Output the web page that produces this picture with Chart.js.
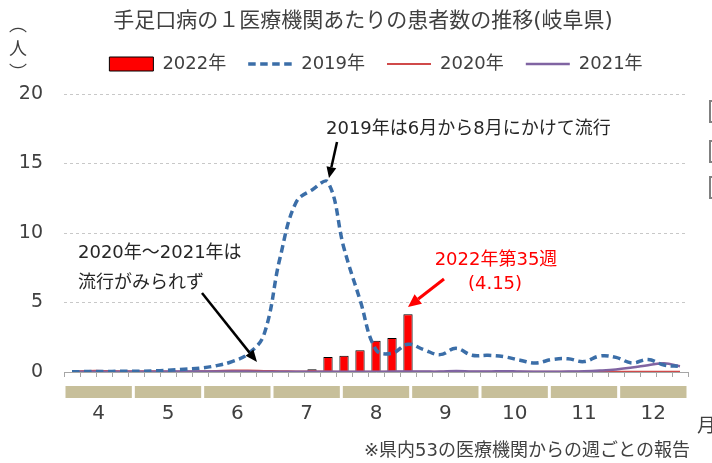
<!DOCTYPE html>
<html><head><meta charset="utf-8">
<script src="https://cdn.jsdelivr.net/npm/chart.js@4.4.0/dist/chart.umd.min.js"></script>
<style>html,body{margin:0;padding:0;background:#fff;overflow:hidden}#wrap{width:712px;height:463px;position:relative}</style>
</head><body><div id="wrap"><canvas id="c" width="712" height="463"></canvas></div>
<script>
const weeks = ['14','15','16','17','18','19','20','21','22','23','24','25','26','27','28','29','30','31','32','33','34','35','36','37','38','39','40','41','42','43','44','45','46','47','48','49','50','51','52'];
const months = ['4','5','6','7','8','9','10','11','12'];
const yTicks = [0, 5, 10, 15, 20];
const seriesNames = ['2022年', '2019年', '2020年', '2021年'];
const cases2022 = [null,null,null,null,null,null,null,null,null,null,null,null,null,null,null,0.19,1.08,1.17,1.57,2.25,2.45,4.15,null,null,null,null,null,null,null,null,null,null,null,null,null,null,null,null,null];
const cases2019 = [0.02,0.03,0.03,0.05,0.05,0.08,0.12,0.2,0.28,0.45,0.75,1.3,2.7,8.2,12.2,13.1,13.65,8.9,5.2,1.6,1.35,2.0,1.6,1.25,1.7,1.2,1.2,1.1,0.85,0.65,0.9,0.95,0.75,1.15,1.05,0.65,0.9,0.5,0.4];
const cases2020 = [0.05,0.08,0.08,0.06,0.05,0.05,0.04,0.04,0.05,0.07,0.1,0.1,0.08,0.06,0.04,0.03,0.03,0.02,0.02,0.02,0.02,0.02,0.02,0.02,0.02,0.02,0.02,0.02,0.01,0.01,0.01,0.02,0.02,0.02,0.02,0.02,0.02,0.02,0.02];
const cases2021 = [0.02,0.02,0.02,0.02,0.02,0.02,0.03,0.03,0.03,0.03,0.03,0.03,0.02,0.02,0.02,0.02,0.02,0.02,0.02,0.02,0.03,0.03,0.03,0.03,0.07,0.04,0.03,0.06,0.03,0.02,0.02,0.03,0.05,0.1,0.18,0.32,0.48,0.63,0.42];

const FF = '"DejaVu Sans","Noto Sans CJK JP",sans-serif';
Chart.defaults.font.family = FF;
Chart.defaults.color = '#404040';

function arrow(ctx, x1, y1, x2, y2, color, lw, hl, hw) {
  const a = Math.atan2(y2 - y1, x2 - x1);
  const bx = x2 - hl * Math.cos(a), by = y2 - hl * Math.sin(a);
  ctx.save();
  ctx.strokeStyle = color; ctx.lineWidth = lw; ctx.lineCap = 'butt';
  ctx.beginPath(); ctx.moveTo(x1, y1); ctx.lineTo(bx, by); ctx.stroke();
  ctx.fillStyle = color;
  ctx.beginPath(); ctx.moveTo(x2, y2);
  ctx.lineTo(bx + hw / 2 * Math.sin(a), by - hw / 2 * Math.cos(a));
  ctx.lineTo(bx - hw / 2 * Math.sin(a), by + hw / 2 * Math.cos(a));
  ctx.closePath(); ctx.fill();
  ctx.restore();
}
function txt(ctx, s, x, y, size, color, align) {
  ctx.save();
  ctx.font = size + 'px ' + FF;
  ctx.fillStyle = color; ctx.textAlign = align || 'left'; ctx.textBaseline = 'middle';
  ctx.fillText(s, x, y);
  ctx.restore();
}

const decor = {
  id: 'decor',
  beforeDatasetsDraw(chart) {
    const ctx = chart.ctx, xm = chart.scales.xm;
    const w = (xm.right - xm.left) / months.length;
    ctx.save();
    ctx.fillStyle = '#c7bf9a';
    months.forEach((m, i) => {
      const c = xm.getPixelForValue(i);
      ctx.fillRect(c - w / 2 + 1.5, xm.top + 6, w - 3, 12);
    });
    ctx.restore();
  },
  afterDraw(chart) {
    const ctx = chart.ctx;
    txt(ctx, '手足口病の１医療機関あたりの患者数の推移(岐阜県)', 363, 22, 21, '#404040', 'center');
    txt(ctx, '︵', 18, 26, 18, '#404040', 'center');
    txt(ctx, '人', 18, 50, 18, '#404040', 'center');
    txt(ctx, '︶', 18, 74, 18, '#404040', 'center');
    txt(ctx, '月', 697, 427, 19, '#404040', 'left');
    txt(ctx, '※県内53の医療機関からの週ごとの報告', 690, 451, 18, '#404040', 'right');
    txt(ctx, '2019年は6月から8月にかけて流行', 326, 129, 18, '#262626', 'left');
    txt(ctx, '2020年～2021年は', 78, 253, 18, '#262626', 'left');
    txt(ctx, '流行がみられず', 78, 283, 18, '#262626', 'left');
    txt(ctx, '2022年第35週', 496, 260, 18, '#ff0000', 'center');
    txt(ctx, '(4.15)', 495, 284, 18, '#ff0000', 'center');
    arrow(ctx, 337, 142, 329, 178, '#000', 2.5, 11, 10);
    arrow(ctx, 202, 293, 257, 362, '#000', 2.5, 12, 10);
    arrow(ctx, 444, 279, 408, 307, '#ff0000', 3, 13, 12);
    ctx.save();
    ctx.strokeStyle = '#808080'; ctx.lineWidth = 2;
    ctx.strokeRect(710, 101, 10, 21);
    ctx.strokeRect(710, 141, 10, 21);
    ctx.strokeRect(710, 177, 10, 21);
    ctx.restore();
  }
};

new Chart(document.getElementById('c'), {
  type: 'bar',
  data: {
    labels: weeks,
    datasets: [
      { type: 'bar', label: seriesNames[0], data: cases2022, backgroundColor: '#ff0000', borderColor: '#000000', borderWidth: 1,
        barPercentage: 0.58, categoryPercentage: 1, order: 4, pointStyle: 'rect', xAxisID: 'x', yAxisID: 'y' },
      { type: 'line', label: seriesNames[1], data: cases2019, borderColor: '#3b6ea8', backgroundColor: '#3b6ea8', borderWidth: 3.5,
        borderDash: [7.5, 4.5], pointRadius: 0, tension: 0.4, order: 1, pointStyle: 'line', xAxisID: 'x', yAxisID: 'y' },
      { type: 'line', label: seriesNames[2], data: cases2020, borderColor: '#d04a4a', backgroundColor: '#d04a4a', borderWidth: 2,
        pointRadius: 0, tension: 0.4, order: 3, pointStyle: 'line', xAxisID: 'x', yAxisID: 'y' },
      { type: 'line', label: seriesNames[3], data: cases2021, borderColor: '#8064a2', backgroundColor: '#8064a2', borderWidth: 2.5,
        pointRadius: 0, tension: 0.4, order: 2, pointStyle: 'line', xAxisID: 'x', yAxisID: 'y' }
    ]
  },
  options: {
    responsive: false, animation: false, devicePixelRatio: 1,
    layout: { padding: { top: 33, left: 0, right: 24, bottom: 38 } },
    plugins: {
      title: { display: false },
      tooltip: { enabled: false },
      legend: {
        position: 'top', fullSize: false,
        labels: { usePointStyle: true, pointStyleWidth: 44, boxHeight: 14, padding: 22,
          font: { size: 18, family: FF }, color: '#404040',
          generateLabels: chart => Chart.defaults.plugins.legend.labels.generateLabels(chart).map(l => {
            const ds = chart.data.datasets[l.datasetIndex];
            l.lineDash = ds.borderDash || [];
            l.lineWidth = ds.type === 'bar' ? 1 : ds.borderWidth;
            l.strokeStyle = ds.borderColor;
            l.fillStyle = ds.backgroundColor;
            return l;
          }),
          sort: (a, b) => a.datasetIndex - b.datasetIndex }
      }
    },
    scales: {
      y: {
        min: 0, max: 20, position: 'left',
        afterBuildTicks: s => { s.ticks = yTicks.map(v => ({ value: v })); },
        afterFit: s => { s.width = 64; },
        ticks: { font: { size: 19 }, color: '#404040', padding: 21 },
        grid: { color: '#c8c8c8', lineWidth: 1, drawTicks: false },
        border: { display: false, dash: [3, 3] }
      },
      x: {
        type: 'category', position: 'bottom', offset: true, weight: 0,
        ticks: { display: false },
        grid: { display: true, offset: true, drawOnChartArea: false, drawTicks: true, tickLength: 5, color: '#a6a6a6' },
        border: { display: true, color: '#a6a6a6', width: 1 },
        afterFit: s => { s.height = 8; }
      },
      xm: {
        type: 'category', labels: months, position: 'bottom', offset: true, weight: 1,
        grid: { display: false, drawTicks: false },
        border: { display: false },
        ticks: { font: { size: 20 }, color: '#404040', padding: 22, maxRotation: 0, autoSkip: false },
        afterFit: s => { s.height = 45; }
      },
      xt: {
        type: 'category', labels: [''], position: 'top', weight: 0,
        grid: { display: false, drawTicks: false },
        border: { display: false },
        ticks: { display: false },
        afterFit: s => { s.height = 11; }
      }
    }
  },
  plugins: [decor]
});
</script>
</body></html>
